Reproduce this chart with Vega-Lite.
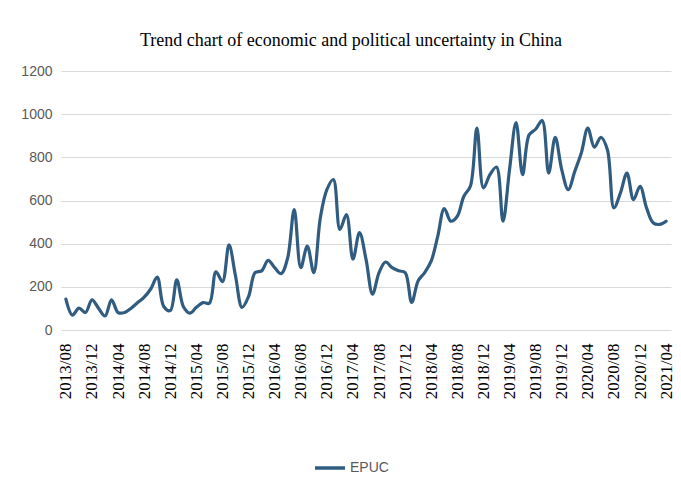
{
  "$schema": "https://vega.github.io/schema/vega-lite/v6.json",
  "autosize": "none",
  "width": 610,
  "height": 259,
  "padding": {"left": 61, "top": 71, "right": 10, "bottom": 156},
  "background": "#ffffff",
  "title": {
    "text": "Trend chart of economic and political uncertainty in China",
    "font": "Liberation Serif",
    "fontSize": 18,
    "fontWeight": "normal",
    "color": "#000000",
    "anchor": "middle",
    "dx": -15,
    "offset": 14
  },
  "data": {
    "values": [
      {"month": "2013/08", "EPUC": 143}, {"month": "2013/09", "EPUC": 69}, {"month": "2013/10", "EPUC": 101}, {"month": "2013/11", "EPUC": 81},
      {"month": "2013/12", "EPUC": 140}, {"month": "2014/01", "EPUC": 101}, {"month": "2014/02", "EPUC": 65}, {"month": "2014/03", "EPUC": 140},
      {"month": "2014/04", "EPUC": 81}, {"month": "2014/05", "EPUC": 81}, {"month": "2014/06", "EPUC": 101}, {"month": "2014/07", "EPUC": 127},
      {"month": "2014/08", "EPUC": 152}, {"month": "2014/09", "EPUC": 190}, {"month": "2014/10", "EPUC": 245}, {"month": "2014/11", "EPUC": 109},
      {"month": "2014/12", "EPUC": 90}, {"month": "2015/01", "EPUC": 232}, {"month": "2015/02", "EPUC": 109}, {"month": "2015/03", "EPUC": 78},
      {"month": "2015/04", "EPUC": 105}, {"month": "2015/05", "EPUC": 127}, {"month": "2015/06", "EPUC": 124}, {"month": "2015/07", "EPUC": 270},
      {"month": "2015/08", "EPUC": 224}, {"month": "2015/09", "EPUC": 394}, {"month": "2015/10", "EPUC": 250}, {"month": "2015/11", "EPUC": 105},
      {"month": "2015/12", "EPUC": 155}, {"month": "2016/01", "EPUC": 266}, {"month": "2016/02", "EPUC": 274}, {"month": "2016/03", "EPUC": 323},
      {"month": "2016/04", "EPUC": 289}, {"month": "2016/05", "EPUC": 261}, {"month": "2016/06", "EPUC": 335}, {"month": "2016/07", "EPUC": 558},
      {"month": "2016/08", "EPUC": 289}, {"month": "2016/09", "EPUC": 389}, {"month": "2016/10", "EPUC": 266}, {"month": "2016/11", "EPUC": 520},
      {"month": "2016/12", "EPUC": 650}, {"month": "2017/01", "EPUC": 697}, {"month": "2017/02", "EPUC": 466}, {"month": "2017/03", "EPUC": 535},
      {"month": "2017/04", "EPUC": 328}, {"month": "2017/05", "EPUC": 451}, {"month": "2017/06", "EPUC": 328}, {"month": "2017/07", "EPUC": 166},
      {"month": "2017/08", "EPUC": 266}, {"month": "2017/09", "EPUC": 315}, {"month": "2017/10", "EPUC": 289}, {"month": "2017/11", "EPUC": 274},
      {"month": "2017/12", "EPUC": 266}, {"month": "2018/01", "EPUC": 128}, {"month": "2018/02", "EPUC": 228}, {"month": "2018/03", "EPUC": 266},
      {"month": "2018/04", "EPUC": 320}, {"month": "2018/05", "EPUC": 435}, {"month": "2018/06", "EPUC": 563}, {"month": "2018/07", "EPUC": 504},
      {"month": "2018/08", "EPUC": 527}, {"month": "2018/09", "EPUC": 620}, {"month": "2018/10", "EPUC": 666}, {"month": "2018/11", "EPUC": 935},
      {"month": "2018/12", "EPUC": 658}, {"month": "2019/01", "EPUC": 720}, {"month": "2019/02", "EPUC": 755}, {"month": "2019/03", "EPUC": 504},
      {"month": "2019/04", "EPUC": 743}, {"month": "2019/05", "EPUC": 961}, {"month": "2019/06", "EPUC": 720}, {"month": "2019/07", "EPUC": 904},
      {"month": "2019/08", "EPUC": 930}, {"month": "2019/09", "EPUC": 970}, {"month": "2019/10", "EPUC": 727}, {"month": "2019/11", "EPUC": 893},
      {"month": "2019/12", "EPUC": 743}, {"month": "2020/01", "EPUC": 650}, {"month": "2020/02", "EPUC": 735}, {"month": "2020/03", "EPUC": 820},
      {"month": "2020/04", "EPUC": 935}, {"month": "2020/05", "EPUC": 847}, {"month": "2020/06", "EPUC": 893}, {"month": "2020/07", "EPUC": 835},
      {"month": "2020/08", "EPUC": 566}, {"month": "2020/09", "EPUC": 635}, {"month": "2020/10", "EPUC": 727}, {"month": "2020/11", "EPUC": 604},
      {"month": "2020/12", "EPUC": 666}, {"month": "2021/01", "EPUC": 566}, {"month": "2021/02", "EPUC": 497}, {"month": "2021/03", "EPUC": 489},
      {"month": "2021/04", "EPUC": 504}
    ]
  },
  "mark": {"type": "line", "interpolate": "catmull-rom", "strokeWidth": 3.2, "strokeCap": "round", "strokeJoin": "round"},
  "encoding": {
    "x": {
      "field": "month",
      "type": "ordinal",
      "sort": null,
      "scale": {"type": "point", "padding": 0.75},
      "axis": {
        "title": null,
        "values": ["2013/08", "2013/12", "2014/04", "2014/08", "2014/12", "2015/04", "2015/08", "2015/12", "2016/04", "2016/08", "2016/12", "2017/04", "2017/08", "2017/12", "2018/04", "2018/08", "2018/12", "2019/04", "2019/08", "2019/12", "2020/04", "2020/08", "2020/12", "2021/04"],
        "labelAngle": -90,
        "labelFont": "Liberation Serif",
        "labelFontSize": 17,
        "labelColor": "#000000",
        "labelPadding": 13,
        "ticks": false,
        "domain": false,
        "grid": false
      }
    },
    "y": {
      "field": "EPUC",
      "type": "quantitative",
      "scale": {"domain": [0, 1200]},
      "axis": {
        "title": null,
        "values": [0, 200, 400, 600, 800, 1000, 1200],
        "format": "d",
        "labelFont": "Liberation Sans",
        "labelFontSize": 14,
        "labelColor": "#595959",
        "labelPadding": 9,
        "ticks": false,
        "domain": false,
        "grid": true,
        "gridColor": "#d9d9d9",
        "gridWidth": 1
      }
    },
    "color": {
      "datum": "EPUC",
      "scale": {"range": ["#2F5C80"]},
      "legend": {
        "title": null,
        "orient": "none",
        "legendX": 252,
        "legendY": 380,
        "symbolType": "stroke",
        "symbolSize": 900,
        "symbolStrokeWidth": 3.5,
        "labelFont": "Liberation Sans Narrow, Liberation Sans",
        "labelFontSize": 14,
        "labelColor": "#595959",
        "labelOffset": 3
      }
    }
  },
  "config": {
    "view": {"stroke": null}
  }
}
